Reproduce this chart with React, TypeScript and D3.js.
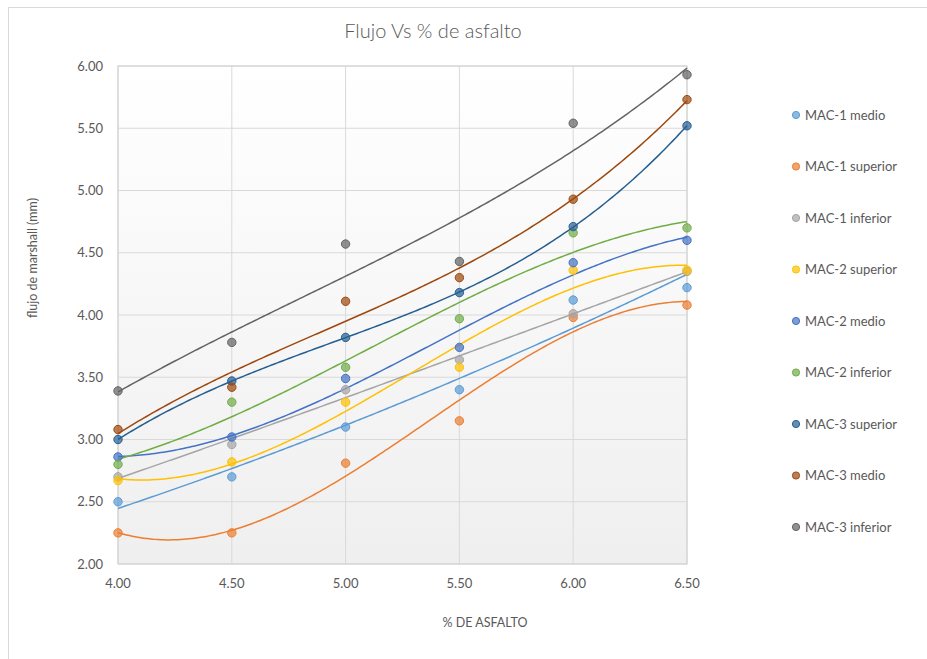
import React from "react";
import * as d3 from "d3";

const xValues = [4.0, 4.5, 5.0, 5.5, 6.0, 6.5];
const seriesNames = [
  "MAC-1 medio",
  "MAC-1 superior",
  "MAC-1 inferior",
  "MAC-2 superior",
  "MAC-2 medio",
  "MAC-2 inferior",
  "MAC-3 superior",
  "MAC-3 medio",
  "MAC-3 inferior",
];
const mac1Medio = [2.5, 2.7, 3.1, 3.4, 4.12, 4.22];
const mac1Superior = [2.25, 2.25, 2.81, 3.15, 3.98, 4.08];
const mac1Inferior = [2.7, 2.96, 3.4, 3.64, 4.01, 4.35];
const mac2Superior = [2.67, 2.82, 3.3, 3.58, 4.36, 4.36];
const mac2Medio = [2.86, 3.02, 3.49, 3.74, 4.42, 4.6];
const mac2Inferior = [2.8, 3.3, 3.58, 3.97, 4.66, 4.7];
const mac3Superior = [3.0, 3.47, 3.82, 4.18, 4.71, 5.52];
const mac3Medio = [3.08, 3.42, 4.11, 4.3, 4.93, 5.73];
const mac3Inferior = [3.39, 3.78, 4.57, 4.43, 5.54, 5.93];
const seriesValues = [
  mac1Medio, mac1Superior, mac1Inferior, mac2Superior, mac2Medio,
  mac2Inferior, mac3Superior, mac3Medio, mac3Inferior,
];
// polynomial order of each series' trendline
const trendOrders = [2, 3, 3, 3, 3, 3, 3, 3, 3];
const colors = [
  "#5B9BD5", "#ED7D31", "#A5A5A5", "#FFC000", "#4472C4",
  "#70AD47", "#255E91", "#9E480E", "#636363",
];
const yTicks = [2.0, 2.5, 3.0, 3.5, 4.0, 4.5, 5.0, 5.5, 6.0];
const xTicks = [4.0, 4.5, 5.0, 5.5, 6.0, 6.5];

// Least-squares polynomial fit like an Excel trendline
function polyFit(xs: number[], ys: number[], order: number) {
  const mx = d3.mean(xs) as number;
  const n = order + 1;
  const A: number[][] = Array.from({ length: n }, () => Array(n + 1).fill(0));
  xs.forEach((x0, k) => {
    const x = x0 - mx;
    for (let i = 0; i < n; i++) {
      for (let j = 0; j < n; j++) A[i][j] += Math.pow(x, i + j);
      A[i][n] += ys[k] * Math.pow(x, i);
    }
  });
  for (let i = 0; i < n; i++) {
    let p = i;
    for (let r = i + 1; r < n; r++) if (Math.abs(A[r][i]) > Math.abs(A[p][i])) p = r;
    [A[i], A[p]] = [A[p], A[i]];
    for (let r = 0; r < n; r++) {
      if (r === i) continue;
      const f = A[r][i] / A[i][i];
      for (let c = i; c <= n; c++) A[r][c] -= f * A[i][c];
    }
  }
  const coef = A.map((row, i) => row[n] / row[i]);
  return (x: number) => coef.reduce((s, c, i) => s + c * Math.pow(x - mx, i), 0);
}

const W = 927;
const H = 659;
const plot = { left: 118, right: 687, top: 66, bottom: 564 };
const FONT = "Lato, 'Open Sans', sans-serif";
const TXT = "#595959";

export default function App() {
  const x = d3.scaleLinear().domain([4.0, 6.5]).range([plot.left, plot.right]);
  const y = d3.scaleLinear().domain([2.0, 6.0]).range([plot.bottom, plot.top]);
  const samples = d3.range(0, 201).map((i) => 4.0 + (2.5 * i) / 200);
  const line = d3
    .line<[number, number]>()
    .x((d) => x(d[0]))
    .y((d) => y(d[1]))
    .curve(d3.curveLinear);

  return (
    <svg
      width={W}
      height={H}
      style={{ position: "absolute", left: 0, top: 0, background: "#fff" }}
      fontFamily={FONT}
    >
      <defs>
        <linearGradient id="plotbg" x1="0" y1="0" x2="0" y2="1">
          <stop offset="0" stopColor="#ffffff" />
          <stop offset="1" stopColor="#efefef" />
        </linearGradient>
        <clipPath id="plotclip">
          <rect x={plot.left} y={plot.top - 6} width={plot.right - plot.left + 6} height={plot.bottom - plot.top + 6} />
        </clipPath>
      </defs>
      <rect x={8.5} y={7.5} width={W + 10} height={H + 10} fill="#fff" stroke="#d9d9d9" />
      <text x={433} y={38} textAnchor="middle" fontSize={20} fontWeight={300} fill={TXT}>
        Flujo Vs % de asfalto
      </text>
      <rect
        x={plot.left}
        y={plot.top}
        width={plot.right - plot.left}
        height={plot.bottom - plot.top}
        fill="url(#plotbg)"
      />
      {yTicks.map((t) => (
        <g key={"y" + t}>
          <line x1={plot.left} x2={plot.right} y1={y(t)} y2={y(t)} stroke="#d9d9d9" strokeWidth={1} />
          <text x={103} y={y(t) + 4.5} textAnchor="end" fontSize={13} fill={TXT}>
            {t.toFixed(2)}
          </text>
        </g>
      ))}
      {xTicks.map((t) => (
        <g key={"x" + t}>
          <line x1={x(t)} x2={x(t)} y1={plot.top} y2={plot.bottom} stroke="#d9d9d9" strokeWidth={1} />
          <text x={x(t)} y={588} textAnchor="middle" fontSize={13} fill={TXT}>
            {t.toFixed(2)}
          </text>
        </g>
      ))}
      <rect
        x={plot.left}
        y={plot.top}
        width={plot.right - plot.left}
        height={plot.bottom - plot.top}
        fill="none"
        stroke="#d0d0d0"
      />
      <text
        transform={`translate(37,258) rotate(-90)`}
        textAnchor="middle"
        fontSize={12.5}
        fill={TXT}
      >
        flujo de marshall (mm)
      </text>
      <text x={485} y={627} textAnchor="middle" fontSize={12.5} fill={TXT}>
        % DE ASFALTO
      </text>
      <g clipPath="url(#plotclip)">
        {seriesValues.map((vals, si) => {
          const f = polyFit(xValues, vals, trendOrders[si]);
          const pts = samples.map((s) => [s, f(s)] as [number, number]);
          return (
            <path key={"t" + si} d={line(pts) || ""} fill="none" stroke={colors[si]} strokeWidth={1.5} />
          );
        })}
      </g>
      {seriesValues.map((vals, si) => (
        <g key={"p" + si}>
          {vals.map((v, i) => (
            <circle
              key={i}
              cx={x(xValues[i])}
              cy={y(v)}
              r={4.2}
              fill={colors[si]}
              fillOpacity={0.7}
              stroke={colors[si]}
              strokeWidth={1}
            />
          ))}
        </g>
      ))}
      {seriesNames.map((name, i) => {
        const ly = 115 + i * 51.5;
        return (
          <g key={"l" + i}>
            <circle cx={796} cy={ly} r={3.6} fill={colors[i]} fillOpacity={0.7} stroke={colors[i]} strokeWidth={1} />
            <text x={805} y={ly + 4.5} fontSize={13} fill={TXT}>
              {name}
            </text>
          </g>
        );
      })}
    </svg>
  );
}
